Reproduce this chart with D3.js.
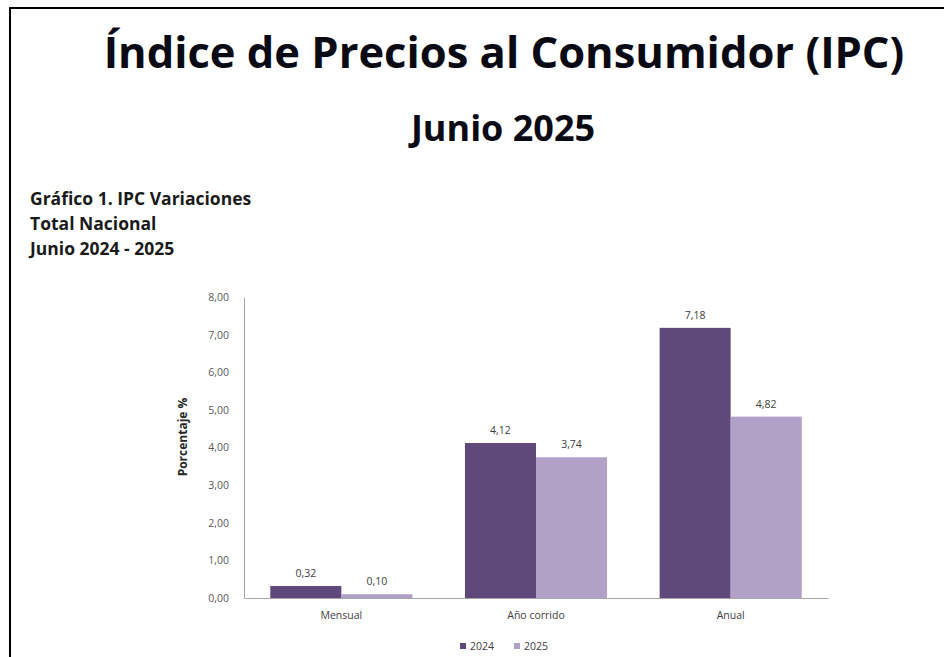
<!DOCTYPE html>
<html>
<head>
<meta charset="utf-8">
<script src="https://cdn.jsdelivr.net/npm/d3@7"></script>
<style>
  body { margin: 0; background: #fff; }
  svg { font-family: "Open Sans", "Noto Sans", sans-serif; }
</style>
</head>
<body>
<svg id="chart" width="944" height="657"></svg>
<script>
const categories = ["Mensual", "Año corrido", "Anual"];
const years = ["2024", "2025"];
const values2024 = [0.32, 4.12, 7.18];
const values2025 = [0.10, 3.74, 4.82];
const yTicks = [0, 1, 2, 3, 4, 5, 6, 7, 8];

const colors = { "2024": "#5f497a", "2025": "#b1a0c7" };
const fmt = v => d3.format(".2f")(v).replace(".", ",");

const svg = d3.select("#chart");

// frame (top + left edges visible)
svg.append("path")
    .attr("d", "M10,657 V8 H944")
    .attr("fill", "none")
    .attr("stroke", "#000")
    .attr("stroke-width", 2);

// titles
svg.append("text")
    .attr("x", 504).attr("y", 68)
    .attr("text-anchor", "middle")
    .attr("font-size", 43.5).attr("font-weight", 700)
    .attr("fill", "#0a0a14")
    .text("Índice de Precios al Consumidor (IPC)");

svg.append("text")
    .attr("x", 503).attr("y", 141)
    .attr("text-anchor", "middle")
    .attr("font-size", 36).attr("font-weight", 700)
    .attr("fill", "#0a0a14")
    .text("Junio 2025");

const sub = ["Gráfico 1. IPC Variaciones", "Total Nacional", "Junio 2024 - 2025"];
svg.append("g").selectAll("text")
    .data(sub)
    .join("text")
    .attr("x", 30)
    .attr("y", (d, i) => 205 + i * 25)
    .attr("font-size", 17.5).attr("font-weight", 700)
    .attr("fill", "#1a1a1a")
    .text(d => d);

// chart area
const plotLeft = 244, plotRight = 828, plotTop = 297, plotBottom = 598;

const x = d3.scaleBand()
    .domain(categories)
    .range([plotLeft, plotRight])
    .paddingInner(0.27)
    .paddingOuter(0.135);

const xs = d3.scaleBand()
    .domain(years)
    .range([0, x.bandwidth()]);

const y = d3.scaleLinear()
    .domain([0, 8])
    .range([plotBottom, plotTop]);

const rows = categories.map((c, i) => ({
    cat: c,
    vals: [
        { year: "2024", v: values2024[i] },
        { year: "2025", v: values2025[i] }
    ]
}));

// y axis
const yAxis = svg.append("g")
    .attr("transform", `translate(${plotLeft},0)`)
    .call(d3.axisLeft(y).tickValues(yTicks).tickSize(0).tickPadding(15).tickFormat(fmt));
yAxis.select(".domain").attr("stroke", "#a6a6a6");
yAxis.selectAll("text")
    .attr("font-family", "'Open Sans', sans-serif")
    .attr("font-size", 10.5)
    .attr("fill", "#595959");

svg.append("text")
    .attr("transform", `translate(187,437) rotate(-90)`)
    .attr("text-anchor", "middle")
    .attr("font-size", 12).attr("font-weight", 700)
    .attr("fill", "#262626")
    .text("Porcentaje %");

// bars
const groups = svg.append("g").selectAll("g")
    .data(rows)
    .join("g")
    .attr("transform", d => `translate(${x(d.cat)},0)`);

groups.selectAll("rect")
    .data(d => d.vals)
    .join("rect")
    .attr("x", d => xs(d.year))
    .attr("y", d => y(d.v))
    .attr("width", xs.bandwidth())
    .attr("height", d => y(0) - y(d.v))
    .attr("fill", d => colors[d.year]);

groups.selectAll("text")
    .data(d => d.vals)
    .join("text")
    .attr("x", d => xs(d.year) + xs.bandwidth() / 2)
    .attr("y", d => y(d.v) - 9)
    .attr("text-anchor", "middle")
    .attr("font-size", 10.5)
    .attr("fill", "#404040")
    .text(d => fmt(d.v));

// x axis
const xAxis = svg.append("g")
    .attr("transform", `translate(0,${plotBottom})`)
    .call(d3.axisBottom(x).tickSize(0).tickPadding(14).tickSizeOuter(0));
xAxis.select(".domain").attr("stroke", "#a6a6a6");
xAxis.selectAll("text")
    .attr("font-family", "'Open Sans', sans-serif")
    .attr("font-size", 10.5)
    .attr("fill", "#404040");

// legend
const legend = svg.append("g")
    .attr("transform", "translate(460,650)");
const li = legend.selectAll("g")
    .data(years)
    .join("g")
    .attr("transform", (d, i) => `translate(${i * 54},0)`);
li.append("rect")
    .attr("x", 0).attr("y", -7)
    .attr("width", 6).attr("height", 6)
    .attr("fill", d => colors[d]);
li.append("text")
    .attr("x", 10).attr("y", 0)
    .attr("font-size", 10.5)
    .attr("fill", "#404040")
    .text(d => d);
</script>
</body>
</html>
